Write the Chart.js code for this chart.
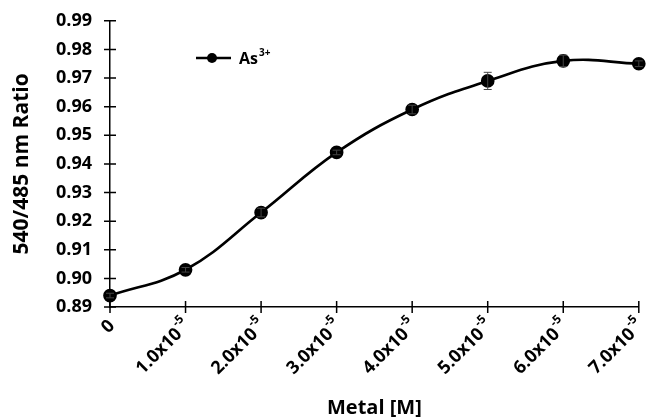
<!DOCTYPE html>
<html>
<head>
<meta charset="utf-8">
<script src="https://cdn.jsdelivr.net/npm/chart.js@4"></script>
<style>
  html, body { margin: 0; padding: 0; background: #fff; }
  #wrap { width: 647px; height: 418px; }
</style>
</head>
<body>
<div id="wrap"><canvas id="ratioChart"></canvas></div>
<script>
// x categories: mantissa and exponent (exponent drawn as superscript)
const categories = ["0", "1.0x10", "2.0x10", "3.0x10", "4.0x10", "5.0x10", "6.0x10", "7.0x10"];
const catExp = ["", "-5", "-5", "-5", "-5", "-5", "-5", "-5"];
const ratio = [0.894, 0.903, 0.923, 0.944, 0.959, 0.969, 0.976, 0.975];
const ratioErr = [0.0008, 0.0008, 0.0015, 0.0008, 0.0015, 0.003, 0.002, 0.001];
const yTicks = [0.89, 0.90, 0.91, 0.92, 0.93, 0.94, 0.95, 0.96, 0.97, 0.98, 0.99];

const FONT = "'Open Sans', sans-serif";

// error bars with caps
const errorBars = {
  id: "errorBars",
  afterDatasetsDraw(chart) {
    const { ctx, scales: { x, y } } = chart;
    ctx.save();
    ctx.strokeStyle = "#444";
    ctx.lineWidth = 1;
    ratio.forEach((v, i) => {
      const px = x.getPixelForValue(i);
      const top = y.getPixelForValue(v + ratioErr[i]);
      const bot = y.getPixelForValue(v - ratioErr[i]);
      ctx.beginPath();
      ctx.moveTo(px, top); ctx.lineTo(px, bot);
      ctx.moveTo(px - 4, top); ctx.lineTo(px + 4, top);
      ctx.moveTo(px - 4, bot); ctx.lineTo(px + 4, bot);
      ctx.stroke();
    });
    ctx.restore();
  }
};

// crossing tick marks, rotated x labels with superscripts, legend
const axisExtras = {
  id: "axisExtras",
  afterDraw(chart) {
    const { ctx, chartArea, scales: { x, y } } = chart;
    ctx.save();
    ctx.strokeStyle = "#000";
    ctx.lineWidth = 1.5;
    ctx.beginPath();
    categories.forEach((c, i) => {
      const px = x.getPixelForValue(i);
      ctx.moveTo(px, chartArea.bottom + 6);
      ctx.lineTo(px, chartArea.bottom - 6);
    });
    yTicks.forEach(v => {
      const py = y.getPixelForValue(v);
      ctx.moveTo(chartArea.left - 6, py);
      ctx.lineTo(chartArea.left + 6, py);
    });
    ctx.stroke();

    // x tick labels
    ctx.fillStyle = "#000";
    categories.forEach((c, i) => {
      const px = x.getPixelForValue(i);
      ctx.save();
      ctx.translate(px + 2, chartArea.bottom + 16);
      ctx.rotate(-Math.PI / 4);
      ctx.font = "bold 18px " + FONT;
      const wb = ctx.measureText(c).width;
      ctx.font = "bold 12px " + FONT;
      const ws = catExp[i] ? ctx.measureText(catExp[i]).width + 1 : 0;
      ctx.textBaseline = "middle";
      ctx.textAlign = "left";
      ctx.font = "bold 18px " + FONT;
      ctx.fillText(c, -(wb + ws), 0);
      if (catExp[i]) {
        ctx.font = "bold 12px " + FONT;
        ctx.fillText(catExp[i], -ws + 1, -8);
      }
      ctx.restore();
    });

    // legend
    const lx = 196, ly = 58;
    ctx.lineWidth = 2.5;
    ctx.beginPath();
    ctx.moveTo(lx, ly); ctx.lineTo(lx + 35, ly);
    ctx.stroke();
    ctx.beginPath();
    ctx.arc(lx + 16, ly, 5, 0, Math.PI * 2);
    ctx.fill();
    ctx.font = "bold 16px " + FONT;
    ctx.textBaseline = "middle";
    ctx.textAlign = "left";
    ctx.fillText("As", lx + 43, ly + 1);
    const w = ctx.measureText("As").width;
    ctx.font = "bold 10px " + FONT;
    ctx.fillText("3+", lx + 43 + w + 1, ly - 5);
    ctx.restore();
  }
};

new Chart(document.getElementById("ratioChart"), {
  type: "line",
  data: {
    labels: categories,
    datasets: [{
      label: "As3+",
      data: ratio,
      borderColor: "#000",
      backgroundColor: "#000",
      borderWidth: 2.7,
      pointRadius: 5.5,
      pointHoverRadius: 5.5,
      tension: 0.4,
      fill: false
    }]
  },
  options: {
    responsive: true,
    maintainAspectRatio: false,
    animation: false,
    layout: { padding: { top: 13, right: 7, left: 0, bottom: 0 } },
    plugins: { legend: { display: false }, tooltip: { enabled: false } },
    scales: {
      x: {
        type: "category",
        offset: false,
        grid: { display: false },
        border: { color: "#000", width: 1.5 },
        ticks: { display: false },
        title: {
          display: true, text: "Metal [M]", color: "#000",
          font: { family: FONT, size: 20, weight: "bold", lineHeight: 1 }, padding: { top: 0, bottom: 0 }
        },
        afterFit(scale) { scale.height = 111; }
      },
      y: {
        min: 0.89, max: 0.99,
        afterBuildTicks(scale) { scale.ticks = yTicks.map(v => ({ value: v })); },
        grid: { display: false },
        border: { color: "#000", width: 1.5 },
        ticks: {
          color: "#000",
          font: { family: FONT, size: 18, weight: "bold" },
          padding: 10,
          callback: v => Number(v).toFixed(2)
        },
        title: {
          display: true, text: "540/485 nm Ratio", color: "#000",
          font: { family: FONT, size: 21, weight: "bold", lineHeight: 1.2 }, padding: { top: 9, bottom: 0 }
        },
        afterFit(scale) { scale.width = 110; }
      }
    }
  },
  plugins: [errorBars, axisExtras]
});
</script>
</body>
</html>
